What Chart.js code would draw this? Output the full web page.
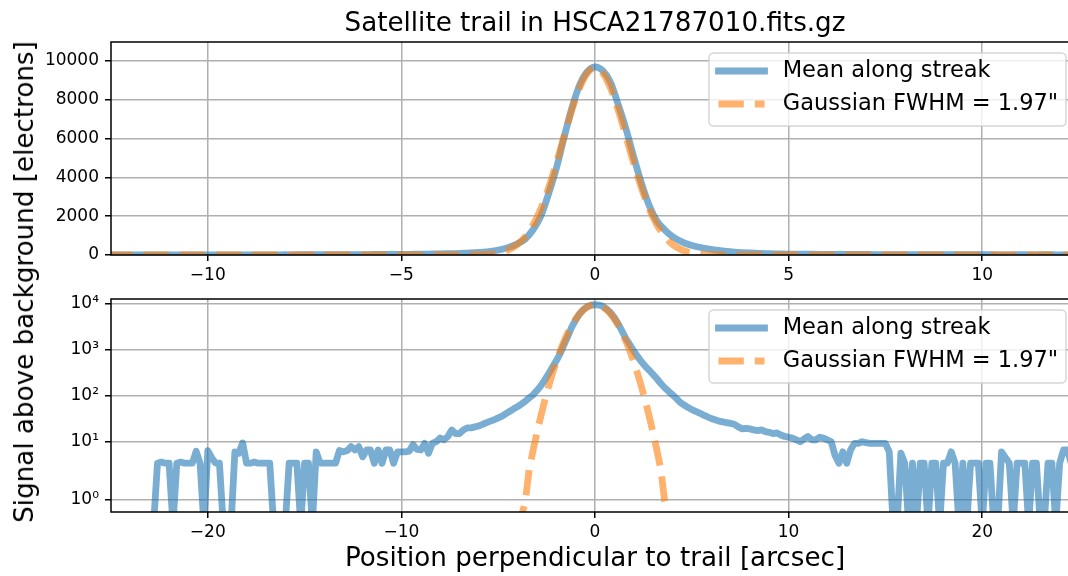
<!DOCTYPE html>
<html><head><meta charset="utf-8">
<script src="https://cdn.jsdelivr.net/npm/chart.js@4.4.1/dist/chart.umd.min.js"></script>
<style>
html,body{margin:0;padding:0;background:#fff;overflow:hidden;width:1068px;height:576px;}
#wrap{position:relative;width:1068px;height:576px;overflow:hidden;background:#fff;}
canvas{position:absolute;left:0;}
.t{position:absolute;font-family:"DejaVu Sans";font-size:26.2px;line-height:26px;white-space:nowrap;color:#000;}
</style></head><body>
<div id="wrap">
<canvas id="c1" width="1090" height="290" style="top:0px"></canvas>
<canvas id="c2" width="1090" height="286" style="top:290px"></canvas>
<div class="t" id="title" style="left:595px;top:9px;transform:translateX(-50%)"></div>
<div class="t" id="xl" style="left:595px;top:544px;transform:translateX(-50%)"></div>
<div class="t" id="yl" style="left:24.4px;top:282px;transform:translate(-50%,-50%) rotate(-90deg)"></div>
</div>
<script>
// ---------------- data ----------------
const titleText = 'Satellite trail in HSCA21787010.fits.gz';
const xLabelText = 'Position perpendicular to trail [arcsec]';
const yLabelText = 'Signal above background [electrons]';
const seriesNames = ['Mean along streak', 'Gaussian FWHM = 1.97"'];

const positions = [
 -25.0,-24.8,-24.6,-24.4,-24.2,-24.0,-23.8,-23.6,-23.4,-23.2,
 -23.0,-22.8,-22.6,-22.4,-22.2,-22.0,-21.8,-21.6,-21.4,-21.2,
 -21.0,-20.8,-20.6,-20.4,-20.2,-20.0,-19.8,-19.6,-19.4,-19.2,
 -19.0,-18.8,-18.6,-18.4,-18.2,-18.0,-17.8,-17.6,-17.4,-17.2,
 -17.0,-16.8,-16.6,-16.4,-16.2,-16.0,-15.8,-15.6,-15.4,-15.2,
 -15.0,-14.8,-14.6,-14.4,-14.2,-14.0,-13.8,-13.6,-13.4,-13.2,
 -13.0,-12.8,-12.6,-12.4,-12.2,-12.0,-11.8,-11.6,-11.4,-11.2,
 -11.0,-10.8,-10.6,-10.4,-10.2,-10.0,-9.8,-9.6,-9.4,-9.2,
 -9.0,-8.8,-8.6,-8.4,-8.2,-8.0,-7.8,-7.6,-7.4,-7.2,
 -7.0,-6.8,-6.6,-6.4,-6.2,-6.0,-5.8,-5.6,-5.4,-5.2,
 -5.0,-4.8,-4.6,-4.4,-4.2,-4.0,-3.8,-3.6,-3.4,-3.2,
 -3.0,-2.8,-2.6,-2.4,-2.2,-2.0,-1.8,-1.6,-1.4,-1.2,
 -1.0,-0.8,-0.6,-0.4,-0.2,0.0,0.2,0.4,0.6,0.8,
 1.0,1.2,1.4,1.6,1.8,2.0,2.2,2.4,2.6,2.8,
 3.0,3.2,3.4,3.6,3.8,4.0,4.2,4.4,4.6,4.8,
 5.0,5.2,5.4,5.6,5.8,6.0,6.2,6.4,6.6,6.8,
 7.0,7.2,7.4,7.6,7.8,8.0,8.2,8.4,8.6,8.8,
 9.0,9.2,9.4,9.6,9.8,10.0,10.2,10.4,10.6,10.8,
 11.0,11.2,11.4,11.6,11.8,12.0,12.2,12.4,12.6,12.8,
 13.0,13.2,13.4,13.6,13.8,14.0,14.2,14.4,14.6,14.8,
 15.0,15.2,15.4,15.6,15.8,16.0,16.2,16.4,16.6,16.8,
 17.0,17.2,17.4,17.6,17.8,18.0,18.2,18.4,18.6,18.8,
 19.0,19.2,19.4,19.6,19.8,20.0,20.2,20.4,20.6,20.8,
 21.0,21.2,21.4,21.6,21.8,22.0,22.2,22.4,22.6,22.8,
 23.0,23.2,23.4,23.6,23.8,24.0,24.2,24.4,24.6,24.8,
 25.0];

const meanSignal = [
 0,0,0,0,0,0,0,0,0,0,
 0,0,3.4,3.6,3.4,3.4,0,3.4,3.6,3.4,
 3.4,3.4,6.2,3.4,0,6.4,4.5,3.4,3.4,0,
 0,0,6.0,5.6,9.4,3.4,3.4,3.6,3.4,3.4,
 3.4,3.4,0,0,0,0,3.4,3.4,3.4,0,
 3.4,3.4,0,6.0,3.4,3.4,3.4,3.4,3.4,6.4,
 6.0,6.4,7.8,6.6,7.8,4.7,6.6,6.6,3.4,6.6,
 3.4,6.6,6.6,3.4,6.0,6.0,6.0,6.2,8.6,6.8,
 6.6,9.2,5.6,9.2,10,12,11,13,18,15,
 15,18,20,20,21,22,24,26,28,30,
 33,36,41,46,52,58,66,76,90,105,
 130,165,220,300,420,580,830,1300,2000,3150,
 4450,6050,7550,8750,9450,9700,9500,8900,7750,6500,
 5050,3700,2550,1750,1300,950,720,550,440,360,
 290,235,185,150,125,105,88,72,63,56,
 50,46,42,38,35,32,30,28,27,26,
 25,24,21,19,19.5,19,18,17.5,18,16.5,
 16,15,15.5,14,13,12.5,12,11,10,11.5,
 13,11,11,12.5,12,11,10,5,3.4,6,
 3.4,6.6,9.2,9.2,10,9.5,9.2,9.2,9.2,9.2,
 9.2,6,0,0,5.6,3.4,0,3.4,0,3.4,
 3.4,0,3.4,3.4,0,3.4,3.4,6.0,3.4,0,
 3.4,0,3.4,3.4,3.4,0,3.4,3.4,0,0,
 6.0,4.5,3.4,0,3.4,3.4,3.4,0,3.4,3.4,
 0,0,3.4,3.4,0,3.4,6.6,6.6,3.4,3.4,
 3.4];

const gaussianFit = [
 0,0,0,0,0,0,0,0,0,0,
 0,0,0,0,0,0,0,0,0,0,
 0,0,0,0,0,0,0,0,0,0,
 0,0,0,0,0,0,0,0,0,0,
 0,0,0,0,0,0,0,0,0,0,
 0,0,0,0,0,0,0,0,0,0,
 0,0,0,0,0,0,0,0,0,0,
 0,0,0,0,0,0,0,0,0,0,
 0,0,0,0,0,0,0,0,0,0,
 0,0,0,0,0,0,0,0,0,0,
 0,0,0,0.01,0.033,0.105,0.32,0.92,2.5,6.42,
 15.6,35.6,77.2,157.6,304,554,953,1550,2379,3449,
 4724,6109,7462,8608,9378,9650,9378,8608,7462,6109,
 4724,3449,2379,1550,953,554,304,157.6,77.2,35.6,
 15.6,6.42,2.5,0.92,0.32,0.105,0.033,0.01,0,0,
 0,0,0,0,0,0,0,0,0,0,
 0,0,0,0,0,0,0,0,0,0,
 0,0,0,0,0,0,0,0,0,0,
 0,0,0,0,0,0,0,0,0,0,
 0,0,0,0,0,0,0,0,0,0,
 0,0,0,0,0,0,0,0,0,0,
 0,0,0,0,0,0,0,0,0,0,
 0,0,0,0,0,0,0,0,0,0,
 0,0,0,0,0,0,0,0,0,0,
 0,0,0,0,0,0,0,0,0,0,
 0];

const topXTicks = [-10, -5, 0, 5, 10];
const topYTicks = [0, 2000, 4000, 6000, 8000, 10000];
const botXTicks = [-20, -10, 0, 10, 20];
const botYTicks = [1, 10, 100, 1000, 10000];
const botYTickLabels = ['10\u2070', '10\u00B9', '10\u00B2', '10\u00B3', '10\u2074'];

// ---------------- texts ----------------
document.getElementById('title').textContent = titleText;
document.getElementById('xl').textContent = xLabelText;
document.getElementById('yl').textContent = yLabelText;

// ---------------- symlog scale (matplotlib-like) ----------------
const LINTHRESH = 2, LINSCALE_ADJ = 1 / (1 - 1 / 10);
function symFwd(v) {
  const a = Math.abs(v);
  const o = a <= LINTHRESH ? a * LINSCALE_ADJ : LINTHRESH * (LINSCALE_ADJ + Math.log10(a / LINTHRESH));
  return v < 0 ? -o : o;
}
function symInv(o) {
  const a = Math.abs(o);
  const v = a <= LINTHRESH * LINSCALE_ADJ ? a / LINSCALE_ADJ : LINTHRESH * Math.pow(10, a / LINTHRESH - LINSCALE_ADJ);
  return o < 0 ? -v : v;
}
class SymlogScale extends Chart.Scale {
  determineDataLimits() { this.min = this.options.min; this.max = this.options.max; }
  buildTicks() { return []; }
  getLabelForValue(v) { return String(v); }
  configure() { super.configure(); this._s0 = symFwd(this.min); this._sr = symFwd(this.max) - this._s0; }
  getPixelForValue(v) { return this.getPixelForDecimal((symFwd(v) - this._s0) / this._sr); }
  getValueForPixel(p) { return symInv(this.getDecimalForPixel(p) * this._sr + this._s0); }
}
SymlogScale.id = 'symlog';
SymlogScale.defaults = {};
Chart.register(SymlogScale);

// ---------------- styles ----------------
Chart.defaults.font.family = "'DejaVu Sans'";
Chart.defaults.color = '#000';
const BLUE = 'rgba(31,119,180,0.6)';
const ORANGE = 'rgba(255,127,14,0.6)';
const LW = 6.8;
const DASH = [25.3, 11];
const tickFont = { size: 17, lineHeight: 1 };
const minus = v => (v < 0 ? '\u2212' : '') + Math.abs(v);

function fixed(size, isY) {
  return function (s) {
    if (isY) s.width = size; else s.height = size;
    s.paddingTop = 0; s.paddingBottom = 0; s.paddingLeft = 0; s.paddingRight = 0;
  };
}
function setTicks(arr) { return s => { s.ticks = arr.map(v => ({ value: v })); }; }
const gridOpts = { color: '#b0b0b0', lineWidth: 1.5, tickColor: '#000', tickWidth: 1.5, tickLength: 6, drawTicks: true };

const mplFrame = {
  id: 'mplFrame',
  afterDraw(chart) {
    const ctx = chart.ctx, ca = chart.chartArea;
    ctx.save();
    ctx.strokeStyle = '#000'; ctx.lineWidth = 1.5; ctx.setLineDash([]);
    ctx.strokeRect(ca.left, ca.top, ca.right - ca.left, ca.bottom - ca.top);
    // legend box (matplotlib style)
    const L = ca.right - 370, T = ca.top + 11, W = 357, H = 73, r = 4.5;
    ctx.beginPath();
    ctx.moveTo(L + r, T); ctx.lineTo(L + W - r, T); ctx.arcTo(L + W, T, L + W, T + r, r);
    ctx.lineTo(L + W, T + H - r); ctx.arcTo(L + W, T + H, L + W - r, T + H, r);
    ctx.lineTo(L + r, T + H); ctx.arcTo(L, T + H, L, T + H - r, r);
    ctx.lineTo(L, T + r); ctx.arcTo(L, T, L + r, T, r); ctx.closePath();
    ctx.fillStyle = 'rgba(255,255,255,0.8)'; ctx.fill();
    ctx.strokeStyle = 'rgba(204,204,204,0.8)'; ctx.lineWidth = 1.5; ctx.stroke();
    const dsOrder = [0, 1];
    dsOrder.forEach((di, row) => {
      const ds = chart.data.datasets[di];
      const y = T + 18 + row * 33;
      ctx.beginPath();
      ctx.setLineDash(ds.borderDash || []);
      ctx.lineCap = ds.borderCapStyle; ctx.lineWidth = ds.borderWidth; ctx.strokeStyle = ds.borderColor;
      ctx.moveTo(L + 9.5, y); ctx.lineTo(L + 55.5, y); ctx.stroke();
      ctx.setLineDash([]);
      ctx.fillStyle = '#000'; ctx.font = "22.5px 'DejaVu Sans'"; ctx.textBaseline = 'middle'; ctx.textAlign = 'left';
      ctx.fillText(ds.label, L + 73.7, y);
    });
    ctx.restore();
  }
};

function makeDatasets(smooth) {
  const interp = smooth ? 'monotone' : 'default';
  return [
    { label: seriesNames[0], data: positions.map((x, i) => ({ x: x, y: meanSignal[i] })),
      borderColor: BLUE, backgroundColor: BLUE, borderWidth: LW, borderCapStyle: 'square', borderJoinStyle: 'round',
      pointRadius: 0, fill: false, clip: 0, order: 2, cubicInterpolationMode: interp, tension: smooth ? 0.4 : 0 },
    { label: seriesNames[1], data: positions.map((x, i) => ({ x: x, y: gaussianFit[i] })),
      borderColor: ORANGE, backgroundColor: ORANGE, borderWidth: LW, borderDash: DASH, borderCapStyle: 'butt', borderJoinStyle: 'round',
      pointRadius: 0, fill: false, clip: 0, order: 1, cubicInterpolationMode: interp, tension: smooth ? 0.4 : 0 }
  ];
}

const common = {
  type: 'line',
  plugins: [mplFrame]
};

new Chart(document.getElementById('c1'), {
  ...common,
  data: { datasets: makeDatasets(true) },
  options: {
    responsive: false, animation: false, devicePixelRatio: 1,
    layout: { padding: { top: 42, right: 11, left: 0, bottom: 0 } },
    plugins: { legend: { display: false }, tooltip: { enabled: false }, title: { display: false } },
    scales: {
      x: { type: 'linear', min: -12.5, max: 12.5, afterFit: fixed(35, false), afterBuildTicks: setTicks(topXTicks),
           grid: gridOpts, border: { display: false },
           ticks: { font: tickFont, padding: 6, maxRotation: 0, autoSkip: false, callback: v => minus(v) } },
      y: { type: 'linear', min: 0, max: 10980, afterFit: fixed(111, true), afterBuildTicks: setTicks(topYTicks),
           grid: gridOpts, border: { display: false },
           ticks: { font: tickFont, padding: 6, autoSkip: false, callback: v => String(v) } }
    }
  }
});

new Chart(document.getElementById('c2'), {
  ...common,
  data: { datasets: makeDatasets(false) },
  options: {
    responsive: false, animation: false, devicePixelRatio: 1,
    layout: { padding: { top: 9, right: 11, left: 0, bottom: 0 } },
    plugins: { legend: { display: false }, tooltip: { enabled: false }, title: { display: false } },
    scales: {
      x: { type: 'linear', min: -25, max: 25, afterFit: fixed(64, false), afterBuildTicks: setTicks(botXTicks),
           grid: gridOpts, border: { display: false },
           ticks: { font: tickFont, padding: 6, maxRotation: 0, autoSkip: false, callback: v => minus(v) } },
      y: { type: 'symlog', min: 0.5, max: 12860, afterFit: fixed(111, true), afterBuildTicks: setTicks(botYTicks),
           grid: gridOpts, border: { display: false },
           ticks: { font: tickFont, padding: 6, autoSkip: false, callback: (v, i) => botYTickLabels[i] } }
    }
  }
});
</script>
</body></html>
